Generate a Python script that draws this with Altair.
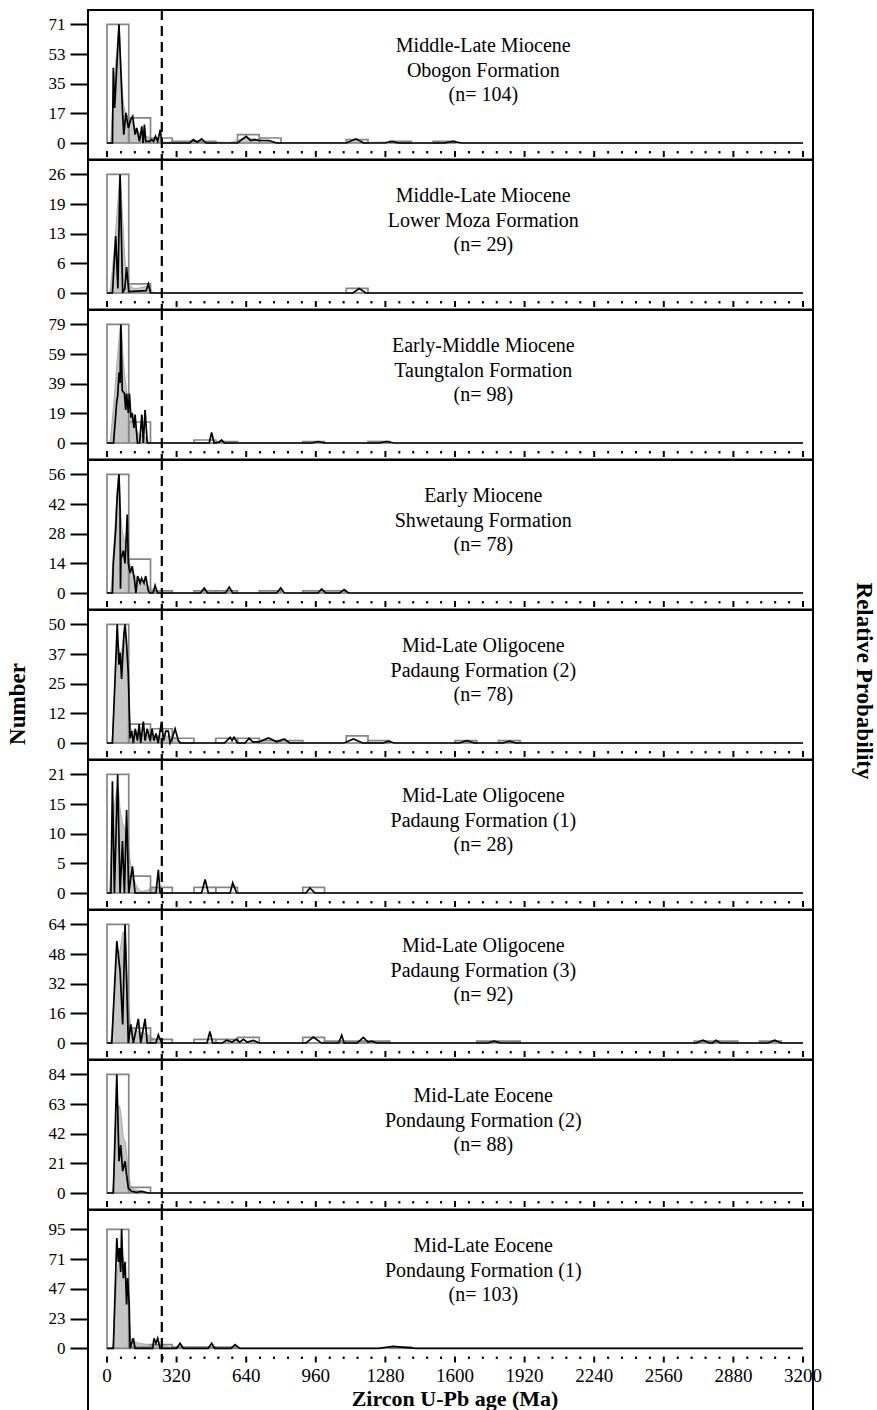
import altair as alt
import pandas as pd

FONT = "Liberation Serif"

# ---------------- panel texts & y maxima ----------------
PANEL_TEXT = [
    "Middle-Late Miocene\nObogon Formation\n(n= 104)",
    "Middle-Late Miocene\nLower Moza Formation\n(n= 29)",
    "Early-Middle Miocene\nTaungtalon Formation\n(n= 98)",
    "Early Miocene\nShwetaung Formation\n(n= 78)",
    "Mid-Late Oligocene\nPadaung Formation (2)\n(n= 78)",
    "Mid-Late Oligocene\nPadaung Formation (1)\n(n= 28)",
    "Mid-Late Oligocene\nPadaung Formation (3)\n(n= 92)",
    "Mid-Late Eocene\nPondaung Formation (2)\n(n= 88)",
    "Mid-Late Eocene\nPondaung Formation (1)\n(n= 103)",
]
YMAX = [71, 26, 79, 56, 50, 21, 64, 84, 95]

MAJOR_TICKS = [0, 320, 640, 960, 1280, 1600, 1920, 2240, 2560, 2880, 3200]
MINOR_TICKS = [64, 128, 192, 256, 384, 448, 512, 576, 704, 768, 832, 896,
               1024, 1088, 1152, 1216, 1344, 1408, 1472, 1536, 1664, 1728,
               1792, 1856, 1984, 2048, 2112, 2176, 2304, 2368, 2432, 2496,
               2624, 2688, 2752, 2816, 2944, 3008, 3072, 3136]
BOUNDARY = [252]
BIN_WIDTH = 100

# ---------------- histogram bins (bin start, count) ----------------
HIST = [
    [(0, 71), (100, 15), (200, 3), (300, 1), (400, 1), (600, 5), (700, 3), (1100, 2), (1300, 1), (1500, 1)],
    [(0, 26), (100, 2), (1100, 1)],
    [(0, 79), (100, 14), (400, 2), (500, 1), (900, 1), (1200, 1)],
    [(0, 56), (100, 16), (200, 1), (400, 1), (500, 1), (700, 1), (900, 1), (1000, 1)],
    [(0, 50), (100, 8), (200, 6), (300, 2), (500, 2), (600, 2), (700, 1), (800, 1), (1100, 3), (1200, 1), (1600, 1), (1800, 1)],
    [(0, 21), (100, 3), (200, 1), (400, 1), (500, 1), (900, 1)],
    [(0, 64), (100, 8), (200, 2), (400, 2), (500, 2), (600, 3), (900, 3), (1000, 1), (1100, 1), (1200, 1), (1700, 1), (1800, 1), (2700, 1), (2800, 1), (3000, 1)],
    [(0, 84), (100, 4)],
    [(0, 95), (100, 1), (200, 3), (300, 1), (400, 1), (500, 1), (1300, 1)],
]

# ---------------- probability curves (age Ma, value) ----------------
LINE = [
    [(0, 0), (25, 0), (29, 45), (35, 21), (55, 71), (71, 20), (77, 5), (87, 18), (98, 9), (109, 14), (118, 16),
     (129, 5), (137, 9), (149, 1), (160, 10), (166, 0), (172, 11), (178, 1), (195, 1), (205, 2), (214, 1),
     (223, 4), (233, 1), (245, 8), (252, 0), (380, 0), (397, 2), (415, 0.5), (435, 2.5), (455, 0), (600, 0),
     (640, 4), (660, 1.5), (680, 2), (700, 1.5), (745, 1.5), (780, 0), (1100, 0), (1145, 2.5), (1180, 0),
     (1280, 0), (1310, 1), (1340, 0), (1550, 0), (1590, 1), (1630, 0), (3200, 0)],
    [(0, 0), (25, 0), (40, 12.5), (50, 1), (60, 26), (72, 0), (82, 1), (90, 5.7), (100, 0.3), (180, 0.5),
     (190, 2), (200, 0), (1130, 0), (1160, 1), (1190, 0), (3200, 0)],
    [(0, 0), (30, 0), (45, 28), (49, 31), (55, 47), (60, 40), (64, 79), (70, 35), (80, 33), (86, 22), (90, 33),
     (98, 20), (103, 33), (110, 17), (116, 20), (124, 10), (129, 19), (140, 0), (150, 0), (160, 19), (167, 0),
     (175, 22), (185, 0), (470, 0), (481, 7), (492, 0), (515, 0.5), (527, 2), (540, 0), (940, 0), (970, 1),
     (1000, 0), (1250, 0), (1286, 1), (1320, 0), (3200, 0)],
    [(0, 0), (25, 0), (29, 14), (40, 30), (47, 46), (55, 56), (60, 39), (62, 2), (64, 17), (67, 17), (75, 20),
     (83, 14), (93, 37), (98, 14), (106, 9.5), (116, 12.6), (126, 6.3), (133, 0), (141, 8), (152, 4.7),
     (159, 7), (170, 4.7), (178, 8), (190, 1), (197, 0), (212, 0), (221, 3.5), (232, 0), (430, 0), (447, 2.4),
     (462, 0), (545, 0), (562, 2.8), (578, 0), (780, 0), (799, 2.4), (815, 0), (970, 0), (987, 1.9),
     (1005, 0), (1070, 0), (1090, 1.6), (1110, 0), (3200, 0)],
    [(0, 0), (25, 0), (47, 50), (55, 33), (61, 38), (67, 27), (72, 36), (78, 46), (83, 50), (90, 42), (98, 29),
     (106, 2), (113, 5), (121, 0), (130, 6), (140, 1), (148, 8), (155, 0), (167, 9), (175, 1), (185, 6),
     (198, 1), (207, 6), (216, 1), (225, 4), (235, 0), (251, 9), (260, 1), (270, 5), (282, 5), (290, 0),
     (300, 2), (313, 6), (328, 1), (336, 0), (540, 0), (566, 2.4), (575, 1), (584, 2.4), (600, 0), (635, 0),
     (653, 2), (670, 0.5), (700, 0.5), (742, 2.1), (780, 0.5), (814, 1.7), (840, 0), (1090, 0), (1133, 1.7),
     (1175, 0), (1270, 0), (1293, 0.8), (1320, 0), (1620, 0), (1654, 1), (1690, 0), (1820, 0), (1850, 0.8),
     (1880, 0), (3200, 0)],
    [(0, 0), (18, 0), (25, 19.8), (34, 0), (49, 21), (60, 0), (71, 9.2), (80, 0), (90, 14.7), (100, 0),
     (117, 4.7), (129, 0), (225, 0), (236, 4.1), (244, 0), (435, 0), (451, 2.4), (466, 0), (566, 0),
     (578, 1.8), (596, 0), (915, 0), (933, 0.9), (956, 0), (3200, 0)],
    [(0, 0), (22, 0), (45, 55), (60, 39), (72, 10), (83, 64), (98, 0), (109, 10), (121, 0), (144, 13),
     (155, 0), (175, 13), (185, 0), (225, 0), (236, 4.4), (251, 0), (460, 0), (473, 6.2), (486, 0), (530, 0),
     (550, 1.5), (575, 0.5), (596, 2), (610, 0.5), (627, 2), (645, 0.5), (673, 1.4), (700, 0), (915, 0),
     (949, 3.2), (985, 0), (1065, 0), (1079, 4.2), (1090, 0), (1150, 0), (1179, 3), (1200, 0.5), (1217, 1),
     (1240, 0), (1750, 0), (1780, 1), (1810, 0), (2710, 0), (2740, 1.5), (2770, 0), (2785, 0), (2800, 1.5),
     (2820, 0), (3040, 0), (3070, 1.5), (3100, 0), (3200, 0)],
    [(0, 0), (29, 0), (45, 84), (55, 22.5), (63, 34), (72, 15.4), (83, 22.5), (90, 13), (98, 3.5), (113, 1.2),
     (137, 0.5), (159, 1.2), (190, 0), (3200, 0)],
    [(0, 0), (29, 0), (45, 88), (52, 69), (57, 80), (63, 61), (67, 95), (75, 56), (83, 69), (90, 35), (95, 56),
     (102, 35), (106, 0), (121, 8), (129, 0), (210, 0), (216, 8), (225, 4), (233, 8), (244, 0), (320, 0),
     (336, 4), (350, 0), (465, 0), (481, 4), (495, 0), (570, 0), (589, 3), (610, 0), (1250, 0), (1315, 1.5),
     (1420, 0), (3200, 0)],
]

KDE = [
    [(0, 0), (15, 0), (25, 20), (35, 40), (45, 55), (55, 68), (65, 45), (75, 25), (90, 17), (110, 14),
     (130, 9), (150, 6), (170, 5), (200, 3), (240, 2), (260, 0.5), (450, 1), (560, 0.3), (640, 3), (700, 2),
     (780, 0.3), (1100, 0.3), (1145, 2), (1190, 0.3), (1310, 0.8), (1350, 0), (3200, 0)],
    [(0, 0), (10, 0), (30, 8), (50, 20), (60, 26), (70, 18), (85, 6), (100, 2), (130, 1), (190, 1.5), (215, 0),
     (3200, 0)],
    [(0, 0), (10, 0), (30, 25), (50, 60), (64, 79), (75, 55), (90, 35), (110, 20), (130, 10), (150, 6),
     (175, 4), (200, 0), (3200, 0)],
    [(0, 0), (15, 0), (30, 20), (45, 45), (55, 56), (65, 35), (80, 25), (95, 20), (110, 12), (130, 8),
     (160, 6), (190, 3), (230, 1), (260, 0), (3200, 0)],
    [(0, 0), (20, 0), (40, 30), (50, 42), (60, 38), (70, 40), (80, 48), (90, 40), (100, 20), (110, 6),
     (150, 4), (200, 3), (260, 3), (320, 2), (350, 0), (3200, 0)],
    [(0, 0), (10, 0), (25, 12), (40, 17), (50, 19), (60, 15), (75, 12), (90, 11), (105, 6), (120, 3),
     (140, 1), (160, 0.3), (230, 1), (260, 0), (3200, 0)],
    [(0, 0), (15, 0), (30, 20), (45, 45), (60, 50), (75, 60), (85, 55), (95, 30), (110, 10), (130, 7),
     (150, 6), (180, 5), (220, 2), (260, 0), (3200, 0)],
    [(0, 0), (20, 0), (35, 20), (45, 55), (55, 62), (65, 55), (75, 40), (85, 35), (95, 20), (105, 8),
     (120, 3), (160, 1.5), (200, 0), (3200, 0)],
    [(0, 0), (25, 0), (40, 40), (50, 65), (60, 72), (70, 75), (80, 65), (90, 45), (100, 30), (110, 8),
     (150, 4), (200, 3), (250, 2.5), (290, 1), (320, 0), (3200, 0)],
]

LABEL_AGE = 1730          # horizontal centre of the panel captions (Ma)
X_TITLE_AGE = 1600
X_TITLE = "Zircon U-Pb age (Ma)"
Y_TITLE = "Number"
Y2_TITLE = "Relative Probability"

# ---------------- layout ----------------
W = 725
H = 149.5
H_LAST = 215
AGE_DOMAIN = [-87.4, 3246.0]

xs = alt.Scale(domain=AGE_DOMAIN, nice=False, zero=False)


def make_panel(i):
    M = YMAX[i]
    last = i == len(YMAX) - 1
    h = H_LAST if last else H
    if last:
        lo, hi = -0.6445 * M, 1.1622 * M
        tick_top = 146.5
    else:
        lo, hi = -0.1391 * M, 1.1214 * M
        tick_top = 141.0
    ys = alt.Scale(domain=[lo, hi], nice=False, zero=False)
    yaxis = alt.Axis(values=[M * k / 4 for k in range(5)], labelExpr="'' + floor(datum.value)",
                     tickSize=18, tickWidth=2, tickColor="black", domain=False, grid=False,
                     labelFont=FONT, labelFontSize=17, labelColor="black", labelPadding=5,
                     title=None)

    hist = pd.DataFrame(HIST[i], columns=["start", "count"])
    hist["end"] = hist["start"] + BIN_WIDTH
    hist["base"] = 0
    line = pd.DataFrame(LINE[i], columns=["age", "value"])
    kde = pd.DataFrame(KDE[i], columns=["age", "value"])

    area = alt.Chart(kde).mark_area(color="#c6c6c6", stroke="#9a9a9a", strokeWidth=0.8,
                                    interpolate="monotone").encode(
        x=alt.X("age:Q", scale=xs, axis=None),
        y=alt.Y("value:Q", scale=ys, axis=yaxis),
    )
    bars = alt.Chart(hist).mark_rect(fill=None, stroke="#858585", strokeWidth=1.7).encode(
        x=alt.X("start:Q", scale=xs, axis=None),
        x2="end:Q",
        y=alt.Y("base:Q", scale=ys, axis=yaxis),
        y2="count:Q",
    )
    curve = alt.Chart(line).mark_line(color="black", strokeWidth=1.7, strokeJoin="miter").encode(
        x=alt.X("age:Q", scale=xs, axis=None),
        y=alt.Y("value:Q", scale=ys, axis=yaxis),
    )
    dashed = alt.Chart(pd.DataFrame({"b": BOUNDARY})).mark_rule(
        color="black", strokeWidth=2.2, strokeDash=[10, 6]).encode(
        x=alt.X("b:Q", scale=xs, axis=None),
        y=alt.value(0), y2=alt.value(tick_top + 6 if last else h),
    )
    major = alt.Chart(pd.DataFrame({"t": MAJOR_TICKS})).mark_rule(color="black", strokeWidth=2).encode(
        x=alt.X("t:Q", scale=xs, axis=None), y=alt.value(tick_top), y2=alt.value(tick_top + 6))
    minor = alt.Chart(pd.DataFrame({"t": MINOR_TICKS})).mark_rule(color="black", strokeWidth=2).encode(
        x=alt.X("t:Q", scale=xs, axis=None), y=alt.value(tick_top), y2=alt.value(tick_top + 2.5))
    caption = alt.Chart(pd.DataFrame({"x": [LABEL_AGE], "t": [PANEL_TEXT[i]]})).mark_text(
        font=FONT, fontSize=20, lineBreak="\n", lineHeight=24.5, baseline="middle",
        align="center", color="black").encode(
        x=alt.X("x:Q", scale=xs, axis=None), y=alt.value(36), text="t:N")

    layers = [area, bars, curve, dashed, major, minor, caption]

    if last:
        lab = alt.Chart(pd.DataFrame({"t": MAJOR_TICKS})).mark_text(
            font=FONT, fontSize=19, baseline="middle", align="center", color="black").encode(
            x=alt.X("t:Q", scale=xs, axis=None), y=alt.value(166), text="t:Q")
        ttl = alt.Chart(pd.DataFrame({"x": [X_TITLE_AGE], "t": [X_TITLE]})).mark_text(
            font=FONT, fontSize=22, fontWeight="bold", baseline="middle", align="center",
            color="black").encode(
            x=alt.X("x:Q", scale=xs, axis=None), y=alt.value(189), text="t:N")
        layers += [lab, ttl]

    if i == 4:
        ytl = alt.Chart(pd.DataFrame({"t": [Y_TITLE]})).mark_text(
            font=FONT, fontSize=23, fontWeight="bold", angle=270, baseline="middle",
            align="center", color="black").encode(
            x=alt.value(-70), y=alt.value(94), text="t:N")
        y2tl = alt.Chart(pd.DataFrame({"t": [Y2_TITLE]})).mark_text(
            font=FONT, fontSize=23, fontWeight="bold", angle=90, baseline="middle",
            align="center", color="black").encode(
            x=alt.value(776), y=alt.value(71), text="t:N")
        layers += [ytl, y2tl]

    return alt.layer(*layers).properties(width=W, height=h)


panels = [make_panel(i) for i in range(len(YMAX))]

chart = alt.vconcat(*panels, spacing=0, bounds="flush").properties(
    padding={"left": 6, "top": 7, "right": 0, "bottom": 0}
).configure(background="white").configure_view(stroke="black", strokeWidth=2)

chart.save("out.html", embed_options={"renderer": "svg", "actions": False})
